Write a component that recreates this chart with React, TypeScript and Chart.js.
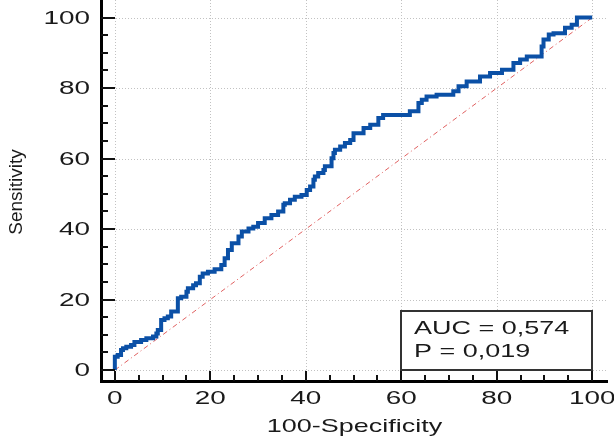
import React, { useEffect, useRef } from "react";
import { Chart, registerables } from "chart.js";

Chart.register(...registerables);

// ROC curve (100-Specificity, Sensitivity)
const fprValues = [
  0, 0, 0.6, 1.3, 1.7, 2.4, 3.4, 4.1, 5.5, 6.6, 8.0, 8.7, 9.0, 9.7, 10.4, 11.1, 11.8, 13.2, 13.9, 15.0,
  15.3, 16.4, 17.0, 17.8, 18.4, 19.5, 20.9, 22.3, 23.0, 23.7, 24.5, 25.9, 26.6, 28.0, 29.0, 30.0, 31.4,
  32.8, 34.2, 35.3, 35.6, 36.7, 37.7, 39.1, 40.2, 40.9, 41.6, 41.9, 42.6, 43.7, 44.0, 45.4, 45.8, 46.1,
  47.2, 48.2, 49.3, 50.0, 52.1, 53.5, 55.2, 56.2, 57.7, 61.8, 63.6, 64.3, 65.3, 67.4, 70.9, 72.0, 73.7,
  76.5, 78.6, 81.1, 83.5, 84.9, 86.3, 89.4, 89.8, 90.9, 91.9, 94.3, 95.7, 96.8, 97.1, 100,
];
const tprValues = [
  0, 1.9, 3.8, 4.3, 5.7, 6.2, 6.6, 7.1, 8.0, 8.5, 9.0, 9.5, 10.4, 11.4, 14.2, 14.7, 15.2, 16.6, 20.4, 20.8,
  22.2, 23.2, 24.1, 24.6, 26.5, 27.4, 27.9, 28.6, 29.8, 31.7, 34.1, 36.0, 37.9, 39.3, 40.2, 40.7, 41.7,
  43.1, 44.0, 45.0, 46.9, 47.3, 48.3, 49.2, 49.7, 51.1, 52.1, 54.0, 54.9, 55.9, 56.8, 57.8, 60.1, 61.6,
  62.5, 63.4, 64.4, 65.3, 67.2, 68.7, 69.6, 71.5, 72.4, 72.4, 73.4, 75.8, 76.7, 77.6, 78.1, 79.1, 80.5,
  81.9, 83.3, 84.3, 85.2, 87.1, 88.1, 89.0, 91.8, 93.8, 95.2, 95.6, 97.1, 98.0, 100, 100,
];

// reference (chance) diagonal
const chanceX = [0, 100];
const chanceY = [0, 100];

// axes
const axisTickValues = [0, 5, 10, 15, 20, 25, 30, 35, 40, 45, 50, 55, 60, 65, 70, 75, 80, 85, 90, 95, 100];
const majorTickLabels = ["0", "20", "40", "60", "80", "100"];
const xTitle = "100-Specificity";
const yTitle = "Sensitivity";

// statistics box
const statLines = ["AUC = 0,574", "P = 0,019"];
const statBoxX = [60, 100];
const statBoxY = [0, 16.8];

const FONT = "'Liberation Sans', Arial, sans-serif";

const gridPlugin = {
  id: "dottedGrid",
  beforeDatasetsDraw(chart: any) {
    const { ctx, chartArea } = chart;
    const xs = chart.scales.x;
    const ys = chart.scales.y;
    ctx.save();
    ctx.strokeStyle = "#c2c2c2";
    ctx.lineWidth = 1;
    ctx.setLineDash([1, 2]);
    majorTickLabels.forEach((lab) => {
      const v = Number(lab);
      const px = Math.round(xs.getPixelForValue(v)) + 0.5;
      ctx.beginPath();
      ctx.moveTo(px, chartArea.top);
      ctx.lineTo(px, chartArea.bottom);
      ctx.stroke();
      const py = Math.round(ys.getPixelForValue(v)) + 0.5;
      ctx.beginPath();
      ctx.moveTo(chartArea.left, py);
      ctx.lineTo(chartArea.right, py);
      ctx.stroke();
    });
    ctx.restore();
  },
};

const overlayPlugin = {
  id: "overlay",
  afterDraw(chart: any) {
    const { ctx, chartArea } = chart;
    const xs = chart.scales.x;
    const ys = chart.scales.y;
    ctx.save();

    // inward tick marks
    ctx.strokeStyle = "#111";
    ctx.lineWidth = 2;
    for (const v of axisTickValues) {
      const major = v % 20 === 0;
      const px = Math.round(xs.getPixelForValue(v));
      ctx.beginPath();
      ctx.moveTo(px, chartArea.bottom);
      ctx.lineTo(px, chartArea.bottom - (major ? 10 : 6));
      ctx.stroke();
      const py = Math.round(ys.getPixelForValue(v));
      ctx.beginPath();
      ctx.moveTo(chartArea.left, py);
      ctx.lineTo(chartArea.left + (major ? 14 : 7), py);
      ctx.stroke();
    }

    // tick labels
    ctx.fillStyle = "#1a1a1a";
    ctx.font = `18px ${FONT}`;
    ctx.textBaseline = "alphabetic";
    majorTickLabels.forEach((lab) => {
      const v = Number(lab);
      const px = xs.getPixelForValue(v);
      ctx.save();
      ctx.translate(px, chartArea.bottom + 23);
      ctx.scale(1.55, 1);
      ctx.textAlign = "center";
      ctx.fillText(lab, 0, 0);
      ctx.restore();
      const py = ys.getPixelForValue(v);
      ctx.save();
      ctx.translate(chartArea.left - 11, py + 6.3);
      ctx.scale(1.55, 1);
      ctx.textAlign = "right";
      ctx.fillText(lab, 0, 0);
      ctx.restore();
    });

    // axis titles
    ctx.font = `19px ${FONT}`;
    ctx.save();
    ctx.translate((xs.getPixelForValue(0) + xs.getPixelForValue(100)) / 2 + 1, chartArea.bottom + 51);
    ctx.scale(1.42, 1);
    ctx.textAlign = "center";
    ctx.fillText(xTitle, 0, 0);
    ctx.restore();

    ctx.save();
    ctx.translate(22, 192);
    ctx.rotate(-Math.PI / 2);
    ctx.textAlign = "center";
    ctx.fillText(yTitle, 0, 0);
    ctx.restore();

    // statistics box
    const bl = Math.round(xs.getPixelForValue(statBoxX[0]));
    const br = Math.round(xs.getPixelForValue(statBoxX[1]));
    const bt = Math.round(ys.getPixelForValue(statBoxY[1]));
    const bb = Math.round(ys.getPixelForValue(statBoxY[0]));
    ctx.fillStyle = "#ffffff";
    ctx.fillRect(bl, bt, br - bl, bb - bt);
    ctx.strokeStyle = "#333";
    ctx.lineWidth = 2;
    ctx.strokeRect(bl, bt, br - bl, bb - bt);
    ctx.fillStyle = "#1a1a1a";
    ctx.font = `19px ${FONT}`;
    ctx.textAlign = "left";
    statLines.forEach((line, i) => {
      ctx.save();
      ctx.translate(bl + 13, bt + 23 + i * 23);
      ctx.scale(1.42, 1);
      ctx.fillText(line, 0, 0);
      ctx.restore();
    });

    ctx.restore();
  },
};

export default function App() {
  const canvasRef = useRef<HTMLCanvasElement | null>(null);

  useEffect(() => {
    const canvas = canvasRef.current;
    if (!canvas) return;
    const rocPoints = fprValues.map((x, i) => ({ x, y: tprValues[i] }));
    const chancePoints = chanceX.map((x, i) => ({ x, y: chanceY[i] }));
    const fixTicks = (scale: any) => {
      scale.ticks = axisTickValues.map((v) => ({ value: v }));
    };

    const chart = new Chart(canvas, {
      type: "line",
      data: {
        datasets: [
          {
            data: rocPoints,
            borderColor: "#0b50a6",
            borderWidth: 4,
            pointRadius: 0,
            stepped: "after",
            fill: false,
          },
          {
            data: chancePoints,
            borderColor: "#e06060",
            borderWidth: 1,
            borderDash: [5, 3, 1, 3],
            pointRadius: 0,
            fill: false,
          },
        ],
      },
      options: {
        animation: false,
        responsive: false,
        devicePixelRatio: 1,
        layout: { padding: { left: 0, right: 7, top: 0, bottom: 0 } },
        plugins: {
          legend: { display: false },
          tooltip: { enabled: false },
          title: { display: false },
        },
        scales: {
          x: {
            type: "linear",
            min: -2.9,
            max: 103.1,
            afterBuildTicks: fixTicks,
            afterFit: (s: any) => {
              s.height = 63;
            },
            ticks: { display: false },
            grid: { display: false, drawTicks: false },
            border: { display: true, color: "#000", width: 3 },
          },
          y: {
            type: "linear",
            min: -3.1,
            max: 105,
            afterBuildTicks: fixTicks,
            afterFit: (s: any) => {
              s.width = 101;
            },
            ticks: { display: false },
            grid: { display: false, drawTicks: false },
            border: { display: true, color: "#000", width: 3 },
          },
        },
      } as any,
      plugins: [gridPlugin, overlayPlugin],
    });
    return () => chart.destroy();
  }, []);

  return (
    <div style={{ position: "fixed", left: 0, top: 0, width: 614, height: 444, background: "#fff" }}>
      <canvas ref={canvasRef} width={614} height={444} style={{ display: "block" }} />
    </div>
  );
}
